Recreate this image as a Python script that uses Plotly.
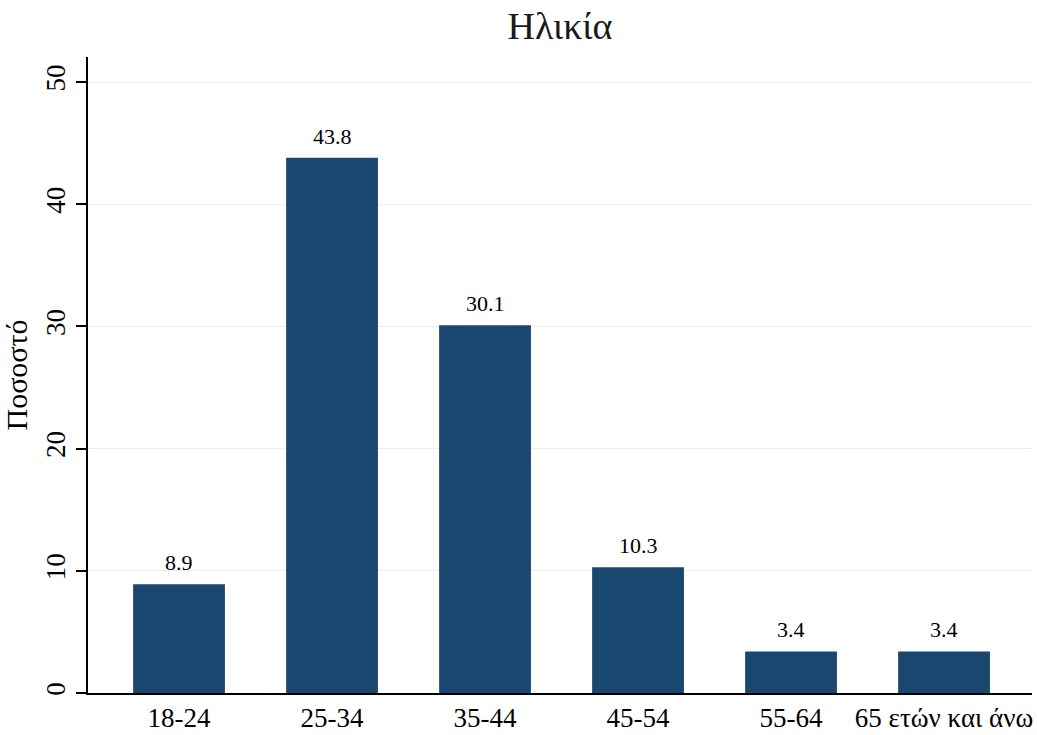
import plotly.graph_objects as go

categories = ["18-24", "25-34", "35-44", "45-54", "55-64", "65 ετών και άνω"]
values = [8.9, 43.8, 30.1, 10.3, 3.4, 3.4]
labels = ["8.9", "43.8", "30.1", "10.3", "3.4", "3.4"]
yticks = [0, 10, 20, 30, 40, 50]

FONT = "Liberation Serif, Times New Roman, serif"
xpos = list(range(len(categories)))

fig = go.Figure(go.Bar(
    x=xpos, y=values,
    width=0.6,
    marker=dict(color="#1a476f", line=dict(width=0)),
    hoverinfo="x+y",
))

for xi, v, lab in zip(xpos, values, labels):
    fig.add_annotation(
        x=xi, y=v, text=lab, showarrow=False,
        xanchor="center", yanchor="bottom", yshift=7,
        font=dict(family=FONT, size=22, color="#000000"),
    )

fig.update_layout(
    width=1037, height=735,
    margin=dict(l=88, r=5, t=57, b=42),
    paper_bgcolor="white", plot_bgcolor="white",
    showlegend=False,
    title=dict(text="Ηλικία", x=0.5, xref="paper", xanchor="center", y=0.965, yanchor="middle",
               font=dict(family=FONT, size=38, color="#1a1a1a")),
    font=dict(family=FONT, color="#000000"),
)
fig.update_xaxes(
    range=[-0.595, 5.575],
    tickmode="array", tickvals=xpos, ticktext=categories,
    ticks="", showgrid=False, zeroline=False, automargin=False,
    showline=True, linecolor="#000000", linewidth=2,
    tickfont=dict(family=FONT, size=27, color="#000000"),
)
fig.update_yaxes(
    range=[0, 52.05],
    tickmode="array", tickvals=yticks, ticktext=[str(t) for t in yticks],
    tickangle=-90, automargin=False,
    ticks="outside", ticklen=10, tickwidth=2, tickcolor="#000000",
    showgrid=True, gridcolor="#e6eff1", gridwidth=1,
    zeroline=False,
    showline=True, linecolor="#000000", linewidth=2,
    tickfont=dict(family=FONT, size=27, color="#000000"),
    title=dict(text="Ποσοστό", font=dict(family=FONT, size=30, color="#000000"), standoff=6),
)

fig.write_html("out.html")
